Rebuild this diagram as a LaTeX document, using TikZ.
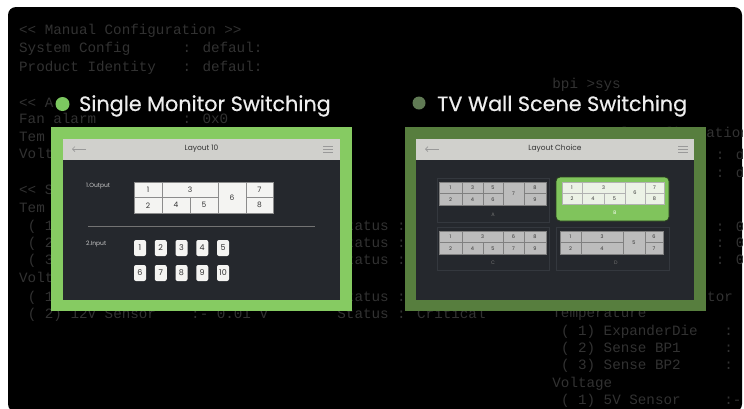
\documentclass[tikz,border=0pt]{standalone}
\usepackage{fontspec}
\setmainfont{Poppins}
\newfontfamily\termfont{Liberation Mono}
\newfontfamily\titlefont[FakeBold=0.5]{Poppins}
\usetikzlibrary{arrows.meta}

\definecolor{monGreen}{RGB}{134,203,98}
\definecolor{wallGreen}{RGB}{87,126,62}
\definecolor{selGreen}{RGB}{128,196,92}
\definecolor{selRim}{RGB}{40,62,30}
\definecolor{dotGreen}{RGB}{124,200,96}
\definecolor{dotOlive}{RGB}{96,122,84}
\definecolor{scrDark}{RGB}{37,40,45}
\definecolor{hdrGray}{RGB}{208,208,204}
\definecolor{cellWhite}{RGB}{244,244,242}
\definecolor{selCell}{RGB}{236,242,230}
\definecolor{thumbGray}{RGB}{188,188,188}
\definecolor{termGray}{RGB}{50,50,50}
\definecolor{titleWhite}{RGB}{238,238,238}
\definecolor{frameGray}{RGB}{52,56,62}

\begin{document}
\begin{tikzpicture}[x=1bp,y=-1bp]

    \tikzset{
      term/.style={font=\termfont\fontsize{14.3}{15}\selectfont, text=termGray, anchor=base west, inner sep=0pt},
      title/.style={font=\titlefont\fontsize{20.8}{24}\selectfont, text=titleWhite, anchor=base west, inner sep=0pt},
      hdr/.style={font=\fontsize{7.5}{8}\selectfont, text=black!80, inner sep=0pt},
      lbl/.style={font=\fontsize{6}{7}\selectfont, text=black!22, anchor=west, inner sep=0pt},
      cell/.style={fill=cellWhite, draw=black!45, line width=0.6bp},
      num/.style={font=\fontsize{7.5}{8}\selectfont, text=black!80, inner sep=0pt},
      btn/.style={fill=cellWhite, rounded corners=2bp, minimum width=12bp, minimum height=16bp, inner sep=0pt, font=\fontsize{8}{9}\selectfont, text=black!80},
      tcell/.style={fill=thumbGray, draw=black!50, line width=0.5bp},
      scell/.style={fill=selCell, draw=black!30, line width=0.5bp},
      tnum/.style={font=\fontsize{5}{6}\selectfont, text=black!80, inner sep=0pt},
      tlbl/.style={font=\fontsize{5}{6}\selectfont, text=black!55, inner sep=0pt},
      icon/.style={draw=black!40, line width=0.7bp},
    }
    \useasboundingbox (0,0) rectangle (744,408);
    \fill[white] (0,0) rectangle (744,408);
    \fill[black, rounded corners=8bp] (8,7) rectangle (742,412);

    % terminal listing behind the panels
    \begin{scope}
    \clip[rounded corners=8bp] (8,7) rectangle (742,412);
    \foreach \c/\y/\t [count=\i] in {
        0/30/{<\kern0pt< Manual Configuration >\kern0pt>},
        0/48/System Config, 19/48/{: defaul:},
        0/67/Product Identity, 19/67/{: defaul:},
        0/103/{<\kern0pt< A},
        0/119/Fan alarm, 19/119/{: 0x0},
        0/137/Tem, 0/154/Volt,
        0/190/{<\kern0pt< S}, 0/208/Tem,
        1/226/{( 1}, 1/243/{( 2}, 1/260/{( 3},
        0/278/Volt, 1/297/{( 1},
        1/314/{( 2) 12V Sensor}, 20/314/{:- 0.01 V}, 37/314/{Status : Critical},
        37/226/{Status :}, 37/243/{Status :}, 37/260/{Status :}, 37/297/{Status :},
        62/84/{bpi >sys},
        62/133/{<\kern0pt< Manual Configuration >\kern0pt>},
        62/155/System Config, 81/155/{: defaul:},
        62/173/Product Identity, 81/173/{: defaul:},
        81/227/{: 0x0}, 81/243/{: 0x0}, 81/260/{: 0x0},
        80/297/tor,
        62/313/Temperature,
        63/331/{( 1) ExpanderDie}, 82/331/{:},
        63/348/{( 2) Sense BP1}, 82/348/{:},
        63/365/{( 3) Sense BP2}, 82/365/{:},
        62/383/Voltage,
        63/400/{( 1) 5V Sensor}, 82/400/{:-}}
      \node[term] (term\i) at ({19+\c*8.6},{\y+4}) {\t};
    \end{scope}

    % single monitor switching
    \fill[dotGreen] (62.5,104) circle[radius=7bp];
    \node[title] (title-single) at (79,111) {Single Monitor Switching};
    \fill[monGreen] (51,127) rectangle (352,311);
    \fill[scrDark] (63,139) rectangle (340,300);
    \fill[hdrGray] (63,139) rectangle (340,160);
    \draw[icon, -{Straight Barb[length=2.5bp,width=5bp]}] (86,149) -- (72,149);
    \foreach \dy in {-3,0,3}
      \draw[icon] (323,149+\dy) -- (333,149+\dy);
    \node[hdr] (hdr-single) at (201.5,149) {Layout 10};
    \node[lbl] (out-lbl) at (86,186) {1.Output};
    \foreach \a/\b/\c/\d/\n in {134/182/162/197.5/1, 134/197.5/162/213/2,
        162/182/218/197.5/3, 162/197.5/190/213/4, 190/197.5/218/213/5,
        218/182/246/213/6, 246/182/273/197.5/7, 246/197.5/273/213/8} {
      \draw[cell] (\a,\b) rectangle (\c,\d);
      \node[num] (out\n) at ({(\a+\c)/2},{(\b+\d)/2}) {\n};
    }
    \draw[black!55, line width=0.6bp] (88,226) -- (315,226);
    \node[lbl] (in-lbl) at (86,244) {2.Input};
    \foreach \n [count=\k from 0] in {1,...,5}
      \node[btn] (in\n) at ({140+20.75*\k},248) {\n};
    \foreach \n [count=\k from 0] in {6,...,10}
      \node[btn] (in\n) at ({140+20.75*\k},273) {\n};

    % tv wall scene switching
    \fill[dotOlive] (419,103) circle[radius=6.5bp];
    \node[title] (title-wall) at (437,111) {TV Wall Scene Switching};
    \fill[wallGreen] (405,127) rectangle (706,311);
    \fill[scrDark] (416,139) rectangle (694,300);
    \fill[hdrGray] (416,139) rectangle (694,160);
    \draw[icon, -{Straight Barb[length=2.5bp,width=5bp]}] (439,149) -- (425,149);
    \foreach \dy in {-3,0,3}
      \draw[icon] (678,149+\dy) -- (688,149+\dy);
    \node[hdr] (hdr-wall) at (555,149) {Layout Choice};

    \draw[frameGray, line width=0.6bp] (437,178) rectangle (549,222);
    \draw[frameGray, line width=0.6bp] (437,227) rectangle (549,270);
    \draw[frameGray, line width=0.6bp] (556,227) rectangle (669,270);
    \fill[selGreen, draw=selRim, line width=0.8bp, rounded corners=4bp] (556,177) rectangle (669,221);

    \foreach \a/\b/\c/\d/\n in {439/182/462/193.5/1, 439/193.5/462/205/2,
        462/182/483/193.5/3, 462/193.5/483/205/4, 483/182/503/193.5/5,
        483/193.5/503/205/6, 503/182/524/205/7, 524/182/546/193.5/8,
        524/193.5/546/205/9} {
      \draw[tcell] (\a,\b) rectangle (\c,\d);
      \node[tnum] (a\n) at ({(\a+\c)/2},{(\b+\d)/2}) {\n};
    }
    \foreach \a/\b/\c/\d/\n in {562/182/582/193/1, 562/193/582/204/2,
        582/182/625/193/3, 582/193/604/204/4, 604/193/625/204/5,
        625/182/645/204/6, 645/182/664/193/7, 645/193/664/204/8} {
      \draw[scell] (\a,\b) rectangle (\c,\d);
      \node[tnum] (b\n) at ({(\a+\c)/2},{(\b+\d)/2}) {\n};
    }
    \foreach \a/\b/\c/\d/\n in {439/231/462/242.5/1, 439/242.5/462/254/2,
        462/231/503/242.5/3, 462/242.5/483/254/4, 483/242.5/503/254/5,
        503/231/524/242.5/6, 503/242.5/524/254/7, 524/231/546/242.5/8,
        524/242.5/546/254/9} {
      \draw[tcell] (\a,\b) rectangle (\c,\d);
      \node[tnum] (c\n) at ({(\a+\c)/2},{(\b+\d)/2}) {\n};
    }
    \foreach \a/\b/\c/\d/\n in {560/231/581/242.5/1, 560/242.5/581/254/2,
        581/231/623/242.5/3, 581/242.5/623/254/4, 623/231/645/254/5,
        645/231/663/242.5/6, 645/242.5/663/254/7} {
      \draw[tcell] (\a,\b) rectangle (\c,\d);
      \node[tnum] (d\n) at ({(\a+\c)/2},{(\b+\d)/2}) {\n};
    }
    \node[tlbl] (lbl-a) at (493,215) {A};
    \node[tlbl, text=white] (lbl-b) at (615,213) {B};
    \node[tlbl] (lbl-c) at (493,263) {C};
    \node[tlbl] (lbl-d) at (616,263) {D};

\end{tikzpicture}
\end{document}
